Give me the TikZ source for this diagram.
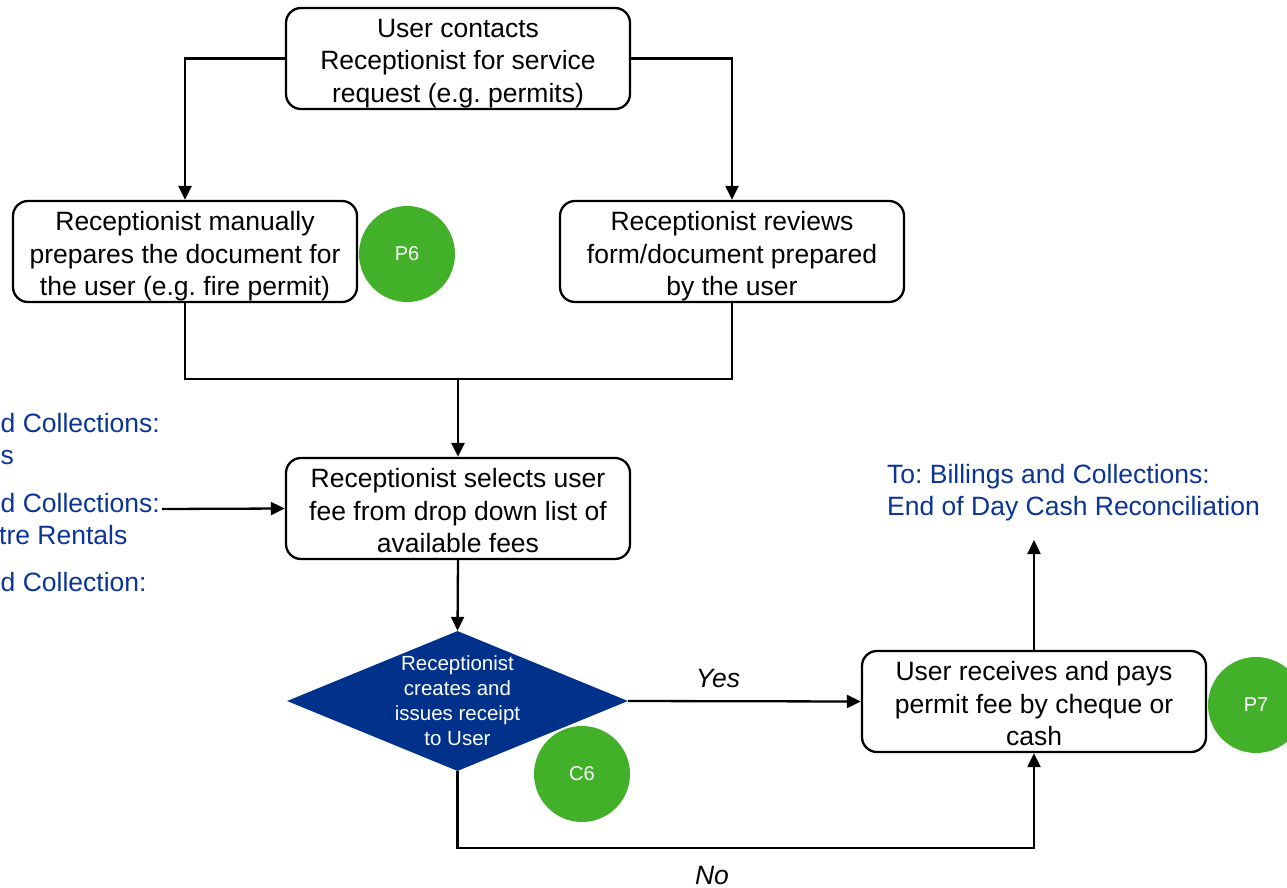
\documentclass[tikz,border=0pt]{standalone}
\usepackage{fontspec}
\setmainfont{Liberation Sans}
\usetikzlibrary{arrows.meta,shapes.geometric}
\frenchspacing

\definecolor{linkblue}{RGB}{10,52,150}
\definecolor{decisionblue}{RGB}{0,50,140}
\definecolor{badgegreen}{RGB}{67,176,42}

\newcommand\boxfont{\fontsize{26.5}{32.5}\selectfont}
\newcommand\smallfont{\fontsize{20.5}{25}\selectfont}
\newcommand\badgefont{\fontsize{20}{24}\selectfont}

\begin{document}
\begin{tikzpicture}[x=1pt,y=-1pt,
  proc/.style={draw, line width=2.3pt, rounded corners=15pt,
    minimum width=344pt, minimum height=101pt, inner sep=0pt,
    text height=88pt, text depth=0pt,
    align=center, font=\boxfont},
  decision/.style={diamond, fill=decisionblue, minimum width=341pt,
    minimum height=140pt, inner sep=0pt},
  decisiontext/.style={text=white, align=center, font=\smallfont, inner sep=0pt},
  badge/.style={circle, fill=badgegreen, minimum size=96pt, inner sep=0pt,
    text=white, font=\badgefont},
  link/.style={line width=2.3pt},
  arr/.style={line width=2.3pt, -{Triangle[length=14pt,width=13pt]}},
  note/.style={text=linkblue, font=\boxfont, inner sep=0pt},
  branch/.style={font=\boxfont\itshape, inner sep=0pt}]

\useasboundingbox (0,0) rectangle (1287,888);

% process boxes
\node[proc] (b1) at (458,58.5) {User contacts\\Receptionist for service\\request (e.g. permits)};
\node[proc] (b2) at (185,251.5) {Receptionist manually\\prepares the document for\\the user (e.g. fire permit)};
\node[proc] (b3) at (732,251.5) {Receptionist reviews\\form/document prepared\\by the user};
\node[proc] (b4) at (458,508.5) {Receptionist selects user\\fee from drop down list of\\available fees};
\node[proc] (b5) at (1034,701.5) {User receives and pays\\permit fee by cheque or\\cash};

% decision
\node[decision] (d) at (457.5,701) {};
\node[decisiontext] (dt) at (d.center) {Receptionist\\creates and\\issues receipt\\to User};

% helper points
\coordinate (join) at (458,379);
\coordinate (nobase) at (700,848);
\coordinate (outtop) at (1034,540);
\coordinate (inleft) at (162,509);

% connectors
\draw[arr] (b1.west) -| (b2.north);
\draw[arr] (b1.east) -| (b3.north);
\draw[link] (b2.south) |- (join) -| (b3.south);
\draw[arr] (join) -- (b4.north);
\draw[arr] (b4.south) -- (d.north);
\draw[arr] (d.east) -- (b5.west);
\draw[arr] (d.south) |- (nobase) -| (b5.south);
\draw[arr] (b5.north) -- (outtop);
\draw[arr] (inleft) -- (b4.west);

% branch labels
\node[branch] (yes) at (718,679) {Yes};
\node[branch] (no) at (712,876) {No};

% off-page references
\node[note, anchor=base west] (r1) at (0.5,432.5) {d Collections:};
\node[note, anchor=base west] (r2) at (0.5,464.5) {s};
\node[note, anchor=base west] (r3) at (0.5,512.5) {d Collections:};
\node[note, anchor=base west] (r4) at (-1,544.5) {tre Rentals};
\node[note, anchor=base west] (r5) at (0.5,591.5) {d Collection:};
\node[note, anchor=base west] (out1) at (887,483.5) {To: Billings and Collections:};
\node[note, anchor=base west] (out2) at (887,515.5) {End of Day Cash Reconciliation};

% control badges
\node[badge] (p6) at (407,254) {P6};
\node[badge] (p7) at (1256,705) {P7};
\node[badge] (c6) at (582,774) {C6};
\end{tikzpicture}
\end{document}
